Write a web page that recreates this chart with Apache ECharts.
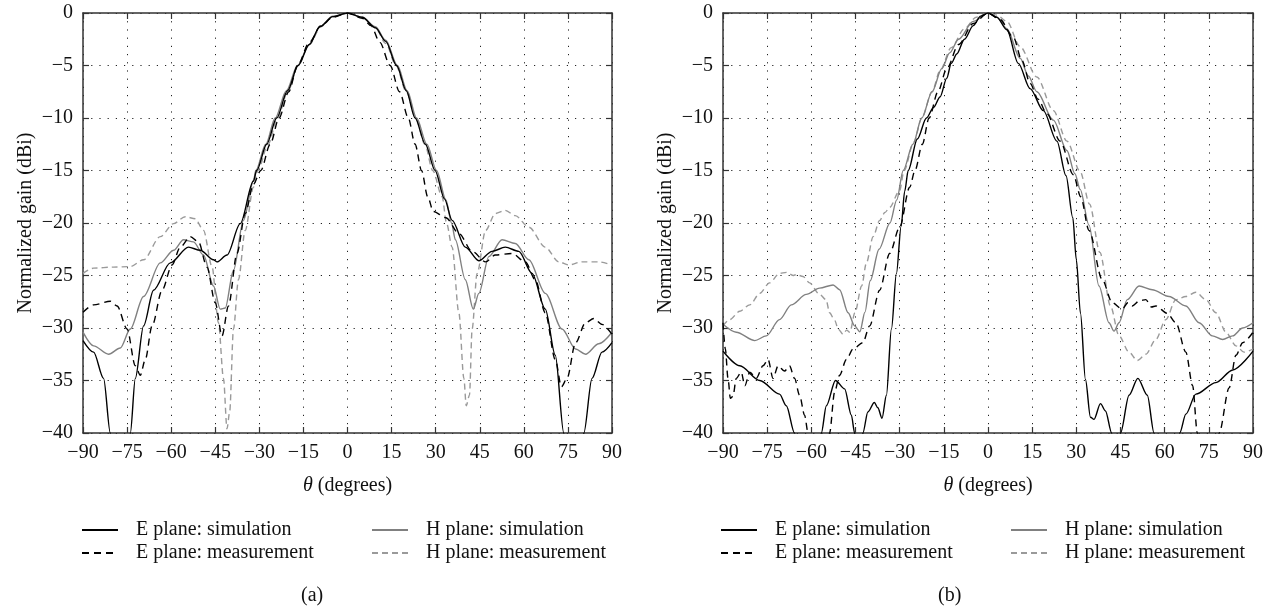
<!DOCTYPE html>
<html>
<head>
<meta charset="utf-8">
<script src="https://cdn.jsdelivr.net/npm/echarts@6/dist/echarts.min.js"></script>
<style>
html,body{margin:0;padding:0;background:#fff;}
#chart{width:1272px;height:613px;}
</style>
</head>
<body>
<div id="chart"></div>
<script>
// ---------- tick values ----------
const thetaTicks = [-90, -75, -60, -45, -30, -15, 0, 15, 30, 45, 60, 75, 90];
const gainTicks = [-40, -35, -30, -25, -20, -15, -10, -5, 0];

// ---------- legend names ----------
const seriesNames = ['E plane: simulation', 'E plane: measurement', 'H plane: simulation', 'H plane: measurement'];

// ---------- (a) data: [theta (deg), normalized gain (dBi)] ----------
const aEsim = [[-90,-31.2],[-86.4,-32.3],[-83.0,-34.8],[-80.7,-40],[-79.5,-45],[-75.2,-45],[-73.9,-40],[-72.2,-34.8],[-69.4,-29.8],[-66.0,-26.4],[-60.3,-23.8],[-54.1,-22.3],[-50.1,-22.6],[-45.6,-23.5],[-44.4,-23.7],[-41.0,-23.05],[-36.5,-20.06],[-32.0,-16.0],[-30.9,-15],[-27.5,-12.5],[-24.1,-10],[-20.4,-7.4],[-16.8,-5],[-13,-3],[-9.4,-1.3],[-5,-0.35],[0,0],[5,-0.4],[9.5,-1.4],[13,-2.7],[16.7,-5],[20,-7.4],[23,-10],[26.5,-12.5],[29.8,-15],[33,-17.7],[35.6,-19.75],[40.1,-22.3],[44.7,-23.6],[49.2,-22.7],[53.7,-22.3],[58.3,-22.7],[62.8,-24.8],[67.3,-28.2],[70.7,-32.6],[73.6,-40],[75.0,-45],[79.2,-45],[80.4,-40],[83.2,-34.8],[86.6,-32.3],[90,-31.4]];
const aEmeas = [[-90,-28.5],[-86.4,-27.8],[-80.7,-27.45],[-78.4,-27.9],[-75.0,-30.1],[-72.2,-33.6],[-70.5,-34.5],[-68.8,-33.0],[-66.5,-29.8],[-63.1,-26.4],[-59.7,-24.0],[-56.9,-22.3],[-53.5,-21.3],[-50.7,-21.8],[-47.8,-24.2],[-45.0,-27.6],[-42.7,-30.75],[-40.5,-27.9],[-37.6,-22.9],[-34.8,-19.1],[-32.0,-16.3],[-29.5,-15],[-26.3,-12.5],[-23.3,-10],[-20,-7.5],[-17,-5],[-13,-2.8],[-9,-1.2],[-5,-0.4],[0,0],[5,-0.5],[8,-1.2],[11,-2.8],[14.5,-5],[17.7,-7.5],[20.7,-10],[23,-12.5],[25.2,-15],[27.3,-17.5],[29.2,-18.9],[33.5,-19.5],[37.9,-21],[42.4,-22.7],[47,-23.7],[50.3,-23.05],[56,-22.9],[60.5,-23.7],[63.9,-25.4],[67.3,-28.55],[70.7,-33],[72.8,-35.6],[74.7,-34.8],[77.6,-31.4],[81,-29.5],[83.8,-29.1],[86.6,-29.65],[90,-30.6]];
const aHsim = [[-90,-30.4],[-86.4,-31.7],[-81.3,-32.5],[-77.3,-31.9],[-73.9,-30.1],[-69.4,-27.0],[-63.7,-23.8],[-59.2,-22.6],[-55.8,-21.6],[-52.4,-21.8],[-49.0,-23.05],[-45.6,-26.0],[-43.3,-28.2],[-41.6,-28.1],[-38.8,-24.5],[-35.4,-19.75],[-32.0,-16.0],[-31.2,-15],[-27.8,-12.5],[-24.6,-10],[-20.8,-7.4],[-17,-5],[-13,-3],[-9.4,-1.3],[-5,-0.3],[0,0],[5,-0.4],[9.5,-1.3],[13,-2.6],[17,-5],[20.3,-7.4],[23.5,-10],[27,-12.5],[30.3,-15],[33.5,-17.8],[35.4,-20],[36.7,-21.6],[40.1,-25.4],[42.8,-28.2],[44.7,-26.7],[48.1,-23.2],[52.6,-21.6],[57.1,-21.95],[61.7,-23.5],[67.3,-26.7],[73,-30.1],[77.6,-32],[81,-32.5],[85.5,-31.5],[90,-30.4]];
const aHmeas = [[-90,-24.8],[-86.4,-24.3],[-79.6,-24.2],[-73.9,-24.15],[-69.4,-23.5],[-63.7,-21.3],[-59.2,-20.06],[-55.2,-19.4],[-51.8,-19.6],[-49.0,-20.7],[-46.1,-24.15],[-43.9,-29.5],[-42.2,-34.8],[-41.0,-39.6],[-40.1,-38.0],[-38.8,-30.1],[-37.1,-25.4],[-34.8,-20.7],[-32.0,-16.6],[-30.5,-15],[-27,-12.5],[-23.8,-10],[-20.2,-7.4],[-16.8,-5],[-13,-3],[-9,-1.3],[-5,-0.35],[0,0],[5,-0.4],[9.5,-1.4],[13,-2.9],[16.5,-5],[20,-7.5],[23.2,-10],[26.3,-12.5],[29,-15],[32.2,-17.5],[33.7,-20],[35.6,-22.3],[37.9,-28.55],[39.6,-34.8],[40.4,-37.4],[41.5,-36.4],[42.4,-30.1],[44.1,-24.8],[47,-20.7],[50.3,-19.1],[53.7,-18.8],[57.1,-19.3],[61.7,-20.4],[67.3,-22.3],[71.9,-23.7],[75.3,-24],[79.8,-23.7],[85.5,-23.7],[90,-24]];

// ---------- (b) data ----------
const bEsim = [[-90,-32.2],[-84.3,-33.6],[-77.5,-35],[-70.8,-36.3],[-68.5,-37.4],[-65.7,-40],[-63.5,-45],[-58.8,-45],[-56.6,-40],[-54.9,-37.4],[-51.8,-35],[-48.7,-35.8],[-46.4,-38.3],[-45.3,-40],[-44.3,-43],[-43.5,-43],[-42.5,-40],[-40.8,-38],[-38.6,-37.1],[-37.4,-37.6],[-36,-38.6],[-34.5,-36.4],[-32.8,-30.1],[-31.1,-24.8],[-29.5,-20.3],[-28.3,-17],[-27.1,-15],[-24,-12],[-20.9,-10],[-18.5,-9],[-16.3,-8],[-14,-6.2],[-12.5,-4.8],[-10.6,-3.9],[-8,-2.5],[-5,-1.2],[-2.5,-0.3],[0,0],[3,-0.4],[6.4,-1.6],[10.3,-4.8],[14.3,-7.2],[18.8,-9.3],[23.4,-12.2],[26.5,-15.5],[28.8,-19.5],[30,-23.5],[31.4,-28.6],[33.1,-34.9],[34.8,-38.5],[36,-38.7],[38.2,-37.2],[39.9,-37.9],[42,-40],[43,-43],[44,-43],[45,-40],[47.9,-36.4],[50.9,-34.8],[54.1,-36.4],[56.4,-40],[58.2,-45],[63.3,-45],[65.1,-40],[67.2,-38.2],[70.6,-36.3],[77.4,-35.2],[83.1,-34],[90,-32.2]];
const bEmeas = [[-90,-29.5],[-89.2,-32],[-88.3,-34.8],[-87.5,-36.7],[-86.6,-36.5],[-85.5,-34.8],[-83.8,-34.2],[-82.6,-35.5],[-80.9,-34.2],[-78.7,-34.8],[-76.4,-33.6],[-74.7,-33],[-73,-34.8],[-71.3,-33.6],[-69.1,-34.1],[-67.4,-33.6],[-65.7,-34.8],[-64,-36.4],[-62.3,-38.3],[-61.1,-40],[-60.2,-44],[-54.8,-44],[-53.8,-40],[-52.1,-36.1],[-50.4,-34.5],[-48.1,-33],[-45.8,-32],[-42.5,-31.4],[-40.2,-29.8],[-36.8,-26.4],[-33.4,-22.9],[-30,-20.4],[-26.6,-16.6],[-24.8,-15],[-22.3,-12.5],[-20,-10],[-17,-7.5],[-14,-5.3],[-10,-3],[-5,-1],[0,0],[4,-0.6],[8.6,-2.3],[11.5,-4.5],[14.3,-6.7],[17,-8.2],[20,-9.6],[24.5,-12.2],[29,-15.4],[31.5,-17.5],[34.3,-20.7],[38.8,-25.4],[42.2,-27.6],[45.6,-28.2],[47.5,-27.6],[49,-27.9],[51.5,-27.4],[53.6,-27.3],[55.5,-28],[57,-27.9],[60.9,-28.6],[63.8,-29.5],[67.2,-32.3],[69.5,-35.5],[71.1,-40],[72,-44],[77.4,-44],[78.5,-40],[81.9,-35.7],[84.2,-32.6],[86.5,-31.4],[90,-30.4]];
const bHsim = [[-90,-29.65],[-85.5,-30.4],[-79.2,-31.2],[-75.3,-30.75],[-70.8,-29.2],[-66.8,-27.8],[-61.7,-26.8],[-57.2,-26.2],[-52.6,-25.9],[-50.4,-26.35],[-47.5,-28.55],[-45.3,-29.8],[-43.5,-30.35],[-41.8,-28.5],[-40,-25.5],[-37,-22.5],[-33.3,-20],[-31,-17.8],[-28.8,-15],[-25.5,-12.5],[-22.5,-10],[-19,-7.5],[-15.7,-5.3],[-13,-3.8],[-10,-2.5],[-5,-0.8],[0,0],[3,-0.4],[6.4,-1.5],[10.9,-4.3],[13.7,-6],[16.6,-7.5],[22.2,-10.2],[26.8,-13.1],[29.5,-15.3],[31.3,-16.8],[34.3,-20.2],[37.7,-26],[41.1,-29.5],[42.8,-30.3],[44.5,-29.5],[47.3,-27.3],[51.3,-26],[55.8,-26.35],[61.5,-27],[67.2,-27.9],[71.7,-29.5],[76.2,-30.75],[79.7,-31.1],[83.1,-30.75],[86.5,-30],[90,-29.5]];
const bHmeas = [[-90,-29.8],[-87.7,-29.2],[-84.3,-28.4],[-80.9,-27.8],[-77.5,-26.7],[-74.2,-25.7],[-70.8,-24.8],[-68.5,-24.7],[-66,-25],[-65.1,-24.9],[-62.8,-25.1],[-60.6,-25.7],[-57.2,-26.8],[-55,-27.3],[-53.8,-28.55],[-52,-29.3],[-50.9,-30.1],[-49.2,-30.6],[-48,-30.2],[-46.9,-30.4],[-45.2,-28.55],[-42.9,-26],[-41.3,-23.8],[-39,-21.3],[-36.8,-19.75],[-35,-19],[-33.4,-18.5],[-30,-16.9],[-28.5,-15],[-25.2,-12.3],[-22.5,-10],[-19,-7.5],[-16.3,-5.5],[-12.5,-3.3],[-8,-1.5],[-4,-0.4],[0,0],[3,-0.2],[6.4,-0.8],[10.9,-3.2],[16.6,-6.1],[22.2,-9.3],[26.8,-12.2],[31.3,-15.1],[34.5,-18.2],[38,-22.8],[41.6,-27.9],[44.5,-30.75],[47.9,-32.3],[50.7,-33.1],[53.6,-32.5],[57,-31.1],[60.4,-29.2],[63.8,-27.3],[67.2,-27],[70.6,-26.6],[74,-27.3],[77.4,-28.55],[80.8,-30.4],[84.2,-31.7],[87,-32.3],[90,-32]];

// ---------- styles ----------
const FONT = '"Liberation Serif", "Times New Roman", serif';
const TXT = '#111';
const styles = [
  {color: '#000000', type: 'solid', width: 1.4},
  {color: '#000000', type: [7, 5], width: 1.4},
  {color: '#808080', type: 'solid', width: 1.4},
  {color: '#9a9a9a', type: [6, 4], width: 1.4}
];
const minusFmt = v => String(v).replace('-', '\u2212');

function xAxes(gridIndex) {
  const common = {
    type: 'value', gridIndex,
    min: thetaTicks[0], max: thetaTicks[thetaTicks.length - 1],
    interval: thetaTicks[1] - thetaTicks[0]
  };
  return [
    Object.assign({}, common, {
      position: 'bottom',
      axisLine: {show: true, onZero: false, lineStyle: {color: '#333', width: 1.5}},
      axisTick: {show: true, inside: true, length: 6, lineStyle: {color: '#333', width: 1.2}},
      axisLabel: {color: TXT, fontFamily: FONT, fontSize: 20, margin: 10, formatter: minusFmt},
      splitLine: {show: true, lineStyle: {color: '#222', type: [1.2, 7], width: 1}},
      name: '{i|\u03b8} (degrees)', nameLocation: 'middle', nameGap: 43,
      nameTextStyle: {color: TXT, fontFamily: FONT, fontSize: 20,
        rich: {i: {fontStyle: 'italic', fontFamily: FONT, fontSize: 20, color: TXT}}}
    }),
    Object.assign({}, common, {
      position: 'top',
      axisLine: {show: true, onZero: false, lineStyle: {color: '#333', width: 1.5}},
      axisTick: {show: true, inside: true, length: 6, lineStyle: {color: '#333', width: 1.2}},
      axisLabel: {show: false}, splitLine: {show: false}
    })
  ];
}
function yAxes(gridIndex) {
  const common = {
    type: 'value', gridIndex,
    min: gainTicks[0], max: gainTicks[gainTicks.length - 1],
    interval: gainTicks[1] - gainTicks[0]
  };
  return [
    Object.assign({}, common, {
      position: 'left',
      axisLine: {show: true, onZero: false, lineStyle: {color: '#333', width: 1.5}},
      axisTick: {show: true, inside: true, length: 6, lineStyle: {color: '#333', width: 1.2}},
      axisLabel: {color: TXT, fontFamily: FONT, fontSize: 20, margin: 10, formatter: minusFmt},
      splitLine: {show: true, lineStyle: {color: '#222', type: [1.2, 7], width: 1}},
      name: 'Normalized gain (dBi)', nameLocation: 'middle', nameGap: 47, nameRotate: 90,
      nameTextStyle: {color: TXT, fontFamily: FONT, fontSize: 20}
    }),
    Object.assign({}, common, {
      position: 'right',
      axisLine: {show: true, onZero: false, lineStyle: {color: '#333', width: 1.5}},
      axisTick: {show: true, inside: true, length: 6, lineStyle: {color: '#333', width: 1.2}},
      axisLabel: {show: false}, splitLine: {show: false}
    })
  ];
}

const dataSets = [[aEsim, aEmeas, aHsim, aHmeas], [bEsim, bEmeas, bHsim, bHmeas]];
const series = [];
dataSets.forEach((set, g) => {
  set.forEach((d, k) => {
    series.push({
      type: 'line', name: seriesNames[k],
      xAxisIndex: g * 2, yAxisIndex: g * 2,
      data: d, showSymbol: false, symbol: 'none',
      smooth: 0.3, smoothMonotone: 'x', clip: true,
      lineStyle: styles[k], itemStyle: {color: styles[k].color},
      animation: false, z: 10 - k
    });
  });
});

function legendBlock(left, names) {
  return {
    orient: 'vertical', left: left, top: 520, padding: 0,
    itemWidth: 36, itemHeight: 14, itemGap: 3,
    data: names, selectedMode: false,
    itemStyle: {opacity: 0, borderWidth: 0},
    textStyle: {color: TXT, fontFamily: FONT, fontSize: 20, padding: [0, 0, 0, 13]}
  };
}

const option = {
  backgroundColor: '#fff',
  animation: false,
  grid: [
    {left: 83, top: 13, width: 529, height: 420, containLabel: false},
    {left: 723, top: 13, width: 530, height: 420, containLabel: false}
  ],
  xAxis: xAxes(0).concat(xAxes(1)),
  yAxis: yAxes(0).concat(yAxes(1)),
  legend: [
    legendBlock(81, [seriesNames[0], seriesNames[1]]),
    legendBlock(371, [seriesNames[2], seriesNames[3]]),
    legendBlock(720, [seriesNames[0], seriesNames[1]]),
    legendBlock(1010, [seriesNames[2], seriesNames[3]])
  ],
  graphic: [
    {type: 'text', left: 301, top: 586, style: {text: '(a)', fontFamily: FONT, fontSize: 20, fill: TXT}},
    {type: 'text', left: 938, top: 586, style: {text: '(b)', fontFamily: FONT, fontSize: 20, fill: TXT}}
  ],
  series: series
};

const chart = echarts.init(document.getElementById('chart'), null, {renderer: 'canvas'});
chart.setOption(option);
</script>
</body>
</html>
